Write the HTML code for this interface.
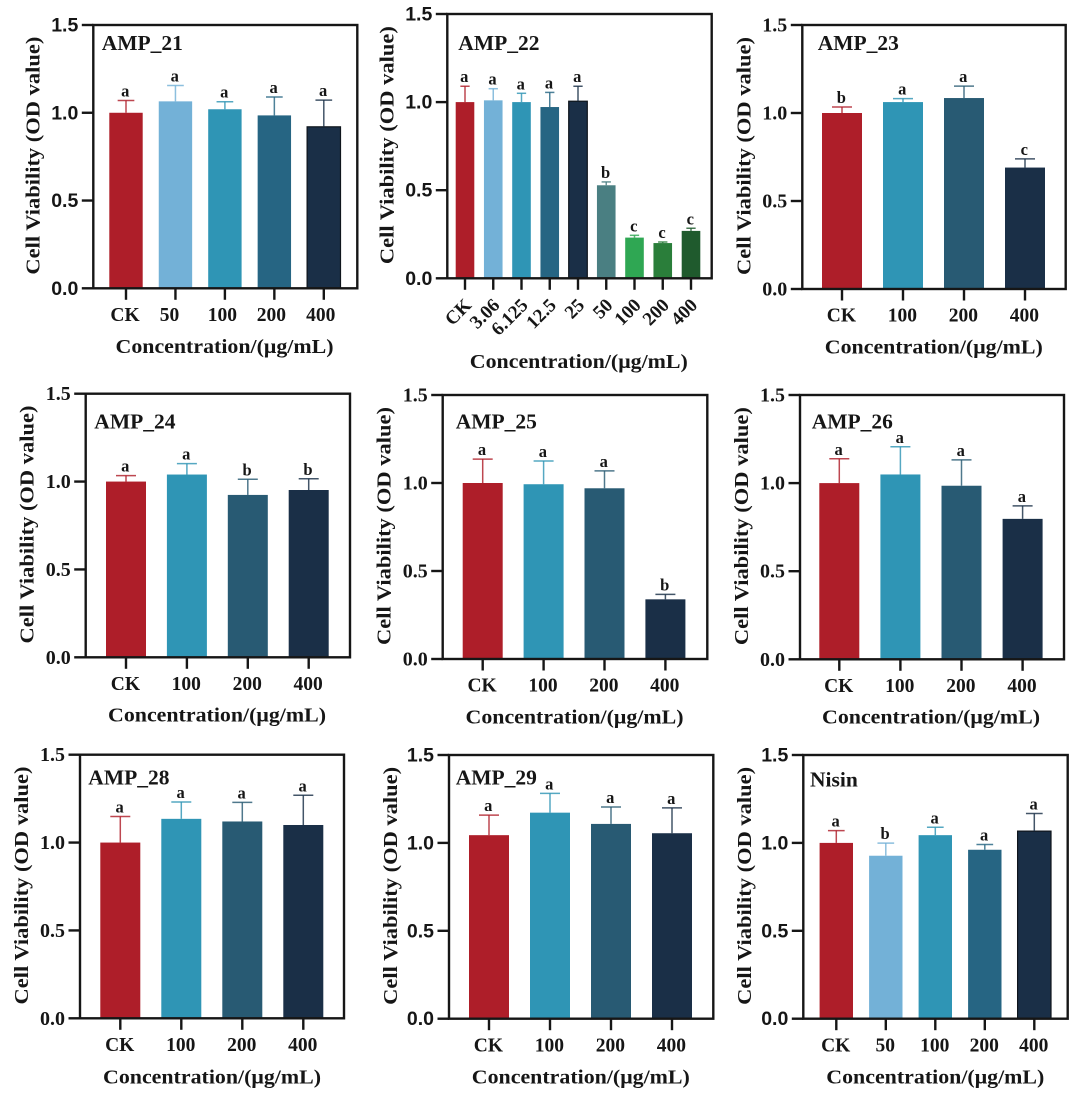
<!DOCTYPE html>
<html lang="en">
<head>
<meta charset="utf-8">
<title>Cell viability of AMP treatments</title>
<style>
html,body{margin:0;padding:0;background:#fff;width:1080px;height:1096px;overflow:hidden}
svg{display:block}
text{fill:#161616;font-weight:bold;font-family:"Liberation Serif",serif}
.sans{font-family:"Liberation Sans",sans-serif}
</style>
</head>
<body>
<svg id="fig" xmlns="http://www.w3.org/2000/svg" width="1080" height="1096" viewBox="0 0 1080 1096"></svg>
<script>
// ---- data ----
const yTicks = [0, 0.5, 1.0, 1.5];
const yMax = 1.5;
const yAxisTitle = "Cell Viability (OD value)";
const xAxisTitle = "Concentration/(μg/mL)";

const amp21Categories = ["CK", "50", "100", "200", "400"];
const amp21Values = [1.0, 1.065, 1.02, 0.985, 0.92];
const amp21Errors = [0.07, 0.09, 0.043, 0.105, 0.152];
const amp21Letters = ["a", "a", "a", "a", "a"];

const amp22Categories = ["CK", "3.06", "6.125", "12.5", "25", "50", "100", "200", "400"];
const amp22Values = [1.0, 1.01, 1.0, 0.972, 1.005, 0.528, 0.231, 0.2, 0.269];
const amp22Errors = [0.09, 0.066, 0.05, 0.083, 0.085, 0.019, 0.013, 0.006, 0.015];
const amp22Letters = ["a", "a", "a", "a", "a", "b", "c", "c", "c"];

const amp23Categories = ["CK", "100", "200", "400"];
const amp23Values = [1.0, 1.062, 1.085, 0.69];
const amp23Errors = [0.034, 0.02, 0.068, 0.049];
const amp23Letters = ["b", "a", "a", "c"];

const amp24Categories = ["CK", "100", "200", "400"];
const amp24Values = [1.0, 1.04, 0.924, 0.952];
const amp24Errors = [0.034, 0.062, 0.089, 0.064];
const amp24Letters = ["a", "a", "b", "b"];

const amp25Categories = ["CK", "100", "200", "400"];
const amp25Values = [1.0, 0.993, 0.97, 0.339];
const amp25Errors = [0.136, 0.132, 0.099, 0.028];
const amp25Letters = ["a", "a", "a", "b"];

const amp26Categories = ["CK", "100", "200", "400"];
const amp26Values = [1.0, 1.049, 0.985, 0.797];
const amp26Errors = [0.138, 0.157, 0.147, 0.074];
const amp26Letters = ["a", "a", "a", "a"];

const amp28Categories = ["CK", "100", "200", "400"];
const amp28Values = [1.0, 1.135, 1.12, 1.1];
const amp28Errors = [0.148, 0.096, 0.109, 0.169];
const amp28Letters = ["a", "a", "a", "a"];

const amp29Categories = ["CK", "100", "200", "400"];
const amp29Values = [1.044, 1.172, 1.108, 1.055];
const amp29Errors = [0.114, 0.11, 0.096, 0.144];
const amp29Letters = ["a", "a", "a", "a"];

const nisinCategories = ["CK", "50", "100", "200", "400"];
const nisinValues = [1.0, 0.927, 1.044, 0.961, 1.067];
const nisinErrors = [0.07, 0.072, 0.045, 0.03, 0.1];
const nisinLetters = ["a", "b", "a", "a", "a"];

// ---- colours ----
const red = "#ae1e29", sky = "#73b1d7", teal = "#2f95b5", blue = "#266583", slate = "#285a73", navy = "#1a2f47";
const palette5 = [red, sky, teal, blue, navy];
const palette4 = [red, teal, slate, navy];
const palette9 = [red, sky, teal, blue, navy, "#4a7f82", "#2fa753", "#2a7e3a", "#1f5a2d"];

// ---- panels (layout + references to the data above) ----
const panels = [
 {name:"amp-21", title:"AMP_21", cats:amp21Categories, vals:amp21Values, errs:amp21Errors, lets:amp21Letters, colors:palette5,
  L:93.3,R:357.3,T:25,B:288.3, first:126,step:49.45,hw:16.7, tx:101.7,ty:50, xc:224.5,xb:353, yo:54, sans:true, dx:[-1,-6,-2.5,-3,-3]},
 {name:"amp-22", title:"AMP_22", cats:amp22Categories, vals:amp22Values, errs:amp22Errors, lets:amp22Letters, colors:palette9,
  L:447.3,R:711.7,T:14,B:278.3, first:465,step:28.25,hw:9.3, tx:458.3,ty:50, xc:578.8,xb:368, yo:54, sans:true, rotate:true},
 {name:"amp-23", title:"AMP_23", cats:amp23Categories, vals:amp23Values, errs:amp23Errors, lets:amp23Letters, colors:palette4,
  L:802.3,R:1065.7,T:25,B:289, first:842,step:61,hw:20, tx:817.7,ty:50, xc:933.8,xb:353.3, yo:52},
 {name:"amp-24", title:"AMP_24", cats:amp24Categories, vals:amp24Values, errs:amp24Errors, lets:amp24Letters, colors:palette4,
  L:85.7,R:350,T:393.7,B:657.3, first:126,step:60.9,hw:20, tx:94.3,ty:428.3, xc:217,xb:721.7, yo:52},
 {name:"amp-25", title:"AMP_25", cats:amp25Categories, vals:amp25Values, errs:amp25Errors, lets:amp25Letters, colors:palette4,
  L:442.7,R:707.3,T:395,B:659, first:482.7,step:60.9,hw:20, tx:455.7,ty:428.3, xc:574.5,xb:723.3, yo:52},
 {name:"amp-26", title:"AMP_26", cats:amp26Categories, vals:amp26Values, errs:amp26Errors, lets:amp26Letters, colors:palette4,
  L:800,R:1064,T:395,B:659.3, first:839.3,step:61.1,hw:20, tx:811.7,ty:428.3, xc:931,xb:723.3, yo:52},
 {name:"amp-28", title:"AMP_28", cats:amp28Categories, vals:amp28Values, errs:amp28Errors, lets:amp28Letters, colors:palette4,
  L:80,R:344,T:754.7,B:1018.3, first:120.3,step:61,hw:20, tx:88.3,ty:784.3, xc:212,xb:1083.3, yo:52},
 {name:"amp-29", title:"AMP_29", cats:amp29Categories, vals:amp29Values, errs:amp29Errors, lets:amp29Letters, colors:palette4,
  L:449,R:713.3,T:755,B:1018.7, first:489,step:61,hw:20, tx:455.7,ty:784.3, xc:580.8,xb:1083.3, yo:52, sans:true},
 {name:"nisin", title:"Nisin", cats:nisinCategories, vals:nisinValues, errs:nisinErrors, lets:nisinLetters, colors:palette5,
  L:803.3,R:1067.7,T:755,B:1018.7, first:836.3,step:49.5,hw:16.7, tx:810,ty:786.7, xc:935.3,xb:1083.3, yo:52.5, sans:true}
];

// ---- drawing ----
const NS = "http://www.w3.org/2000/svg";
const fig = document.getElementById("fig");
function mk(tag, parent, attrs, txt){
  const e = document.createElementNS(NS, tag);
  for (const k in attrs) e.setAttribute(k, attrs[k]);
  if (txt !== undefined) e.textContent = txt;
  parent.appendChild(e);
  return e;
}
const ink = "#161616";

panels.forEach(function(p){
  const yScale = v => p.B - (v / yMax) * (p.B - p.T);
  const xScale = i => p.first + i * p.step;

  const g = mk("g", fig, {});
  
  

  // bars and error bars
  p.vals.forEach(function(v, i){
    const c = xScale(i), col = p.colors[i % p.colors.length], top = yScale(v), errY = yScale(v + p.errs[i]);
    const bar = mk("rect", g, {x:c - p.hw, y:top, width:2 * p.hw, height:p.B - top, fill:col});
    
    
    const isDarkOutlined = p.colors !== palette4 && col === navy;
    if (isDarkOutlined) { bar.setAttribute("stroke", "#0f151c"); bar.setAttribute("stroke-width", "1.2"); }

    const stem = mk("line", g, {x1:c, x2:c, y1:top, y2:errY, stroke:col, "stroke-width":1.5, "stroke-opacity":0.82});
    
    
    const capHw = p.hw * 0.5;
    const cap = mk("line", g, {x1:c - capHw, x2:c + capHw, y1:errY, y2:errY, stroke:col, "stroke-width":1.5, "stroke-opacity":0.82});
    
    

    const letter = mk("text", g, {x:c - 0.7, y:errY - 4, "text-anchor":"middle", "font-size":16.5}, p.lets[i]);
    
    
  });

  // frame
  const frame = mk("rect", g, {x:p.L, y:p.T, width:p.R - p.L, height:p.B - p.T, fill:"none", stroke:ink, "stroke-width":2.4});
  
  

  // y axis
  yTicks.forEach(function(t){
    const y = yScale(t);
    const tick = mk("line", g, {x1:p.L - 11.5, x2:p.L, y1:y, y2:y, stroke:ink, "stroke-width":2.4});
    
    
    const lab = mk("text", g, {x:p.L - 15, y:y + 6.5, "text-anchor":"end", "font-size":p.sans ? 19.5 : 20, class:p.sans ? "sans" : ""}, t.toFixed(1));
    
    
  });

  // x axis
  p.cats.forEach(function(cat, i){
    const c = xScale(i);
    const tick = mk("line", g, {x1:c, x2:c, y1:p.B, y2:p.B + 11.5, stroke:ink, "stroke-width":2.4});
    
    
    let lab;
    if (p.rotate) {
      const ax = c + 7.5, ay = p.B + 28;
      lab = mk("text", g, {x:ax, y:ay, "text-anchor":"end", "font-size":19, transform:"rotate(-45 " + ax + " " + ay + ")"}, cat);
    } else {
      const shift = p.dx ? p.dx[i] : -0.6;
      lab = mk("text", g, {x:c + shift, y:p.B + 32.7, "text-anchor":"middle", "font-size":19.5}, cat);
    }
    
    
  });

  // titles
  const title = mk("text", g, {x:p.tx, y:p.ty, "font-size":21.5}, p.title);
  
  

  const xTitle = mk("text", g, {x:p.xc, y:p.xb, "text-anchor":"middle", "font-size":20.5, textLength:218, lengthAdjust:"spacingAndGlyphs"}, xAxisTitle);
  
  

  const yx = p.L - p.yo, yc = (p.T + p.B) / 2 - 1;
  const yTitle = mk("text", g, {x:yx, y:yc, "text-anchor":"middle", "font-size":20.5, textLength:238, lengthAdjust:"spacingAndGlyphs", transform:"rotate(-90 " + yx + " " + yc + ")"}, yAxisTitle);
  
  
});
</script>
</body>
</html>
